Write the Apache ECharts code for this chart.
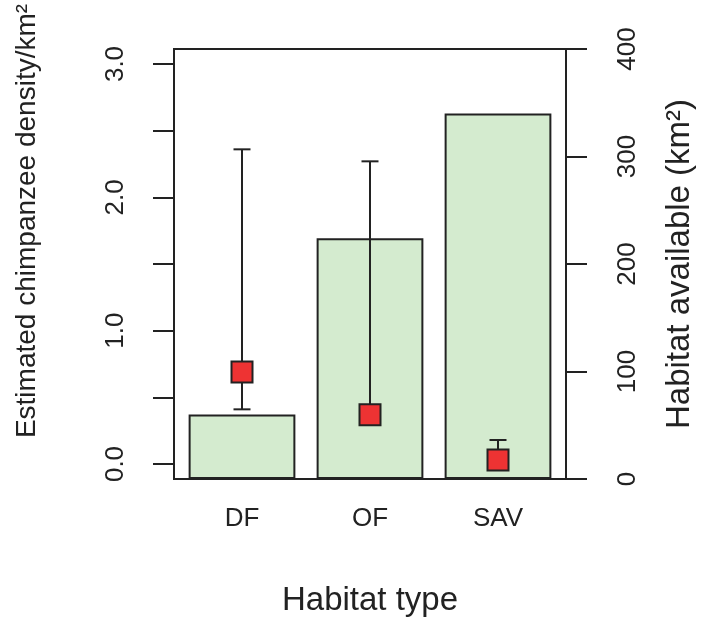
<!DOCTYPE html>
<html>
<head>
<meta charset="utf-8">
<script src="https://cdn.jsdelivr.net/npm/echarts@6/dist/echarts.min.js"></script>
<style>
  html, body { margin: 0; padding: 0; background: #fff; }
  #chart { width: 705px; height: 626px; }
</style>
</head>
<body>
<div id="chart"></div>
<script>
// habitat categories
const habitats = ['DF', 'OF', 'SAV'];
// habitat available (km2), right axis
const habitatArea = [60, 224, 340];
// estimated density (per km2), left axis
const density = [0.69, 0.37, 0.03];
const densityLow = [0.41, 0.31, 0.0];
const densityHigh = [2.36, 2.27, 0.18];
// tick values
const leftTicks = [0, 0.5, 1.0, 1.5, 2.0, 2.5, 3.0];
const leftLabels = [0, 1.0, 2.0, 3.0];

const ink = '#222222';
const font = 'Liberation Sans, Arial, sans-serif';

const chart = echarts.init(document.getElementById('chart'));

const errData = habitats.map((h, i) => [i, densityLow[i], densityHigh[i]]);

const option = {
  backgroundColor: '#ffffff',
  animation: false,
  grid: { left: 178, top: 49, width: 384, height: 430 },
  graphic: [
    {
      // plot frame (box around the panel)
      type: 'rect',
      shape: { x: 174, y: 49, width: 392, height: 430 },
      style: { fill: 'none', stroke: ink, lineWidth: 2 },
      z: 100
    }
  ],
  xAxis: {
    type: 'category',
    data: habitats,
    name: 'Habitat type',
    nameLocation: 'middle',
    nameGap: 105,
    nameTextStyle: { fontFamily: font, fontSize: 33, color: ink },
    axisLine: { show: false },
    axisTick: { show: false },
    axisLabel: { margin: 27, fontFamily: font, fontSize: 26, color: ink },
    splitLine: { show: false }
  },
  yAxis: [
    {
      type: 'value',
      position: 'left',
      offset: 4,
      min: -0.1125,
      max: 3.1125,
      name: 'Estimated chimpanzee density/km²',
      nameLocation: 'middle',
      nameRotate: 90,
      nameGap: 133,
      nameTextStyle: { fontFamily: font, fontSize: 28, color: ink, padding: [0, 0, 0, 86] },
      axisLine: { show: true, lineStyle: { color: ink, width: 2 } },
      axisTick: { show: true, length: 21, customValues: leftTicks, lineStyle: { color: ink, width: 2 } },
      axisLabel: {
        customValues: leftLabels,
        rotate: 90,
        margin: 45,
        fontFamily: font,
        fontSize: 26,
        color: ink,
        formatter: v => Number(v).toFixed(1)
      },
      splitLine: { show: false }
    },
    {
      type: 'value',
      position: 'right',
      offset: 4,
      min: 0,
      max: 400,
      interval: 100,
      name: 'Habitat available (km²)',
      nameLocation: 'middle',
      nameRotate: 90,
      nameGap: 97,
      nameTextStyle: { fontFamily: font, fontSize: 33, color: ink },
      axisLine: { show: true, lineStyle: { color: ink, width: 2 } },
      axisTick: { show: true, length: 21, lineStyle: { color: ink, width: 2 } },
      axisLabel: { rotate: 90, margin: 49, fontFamily: font, fontSize: 26, color: ink },
      splitLine: { show: false }
    }
  ],
  series: [
    {
      name: 'Habitat available',
      type: 'bar',
      yAxisIndex: 1,
      data: habitatArea,
      barCategoryGap: '16.6%',
      itemStyle: { color: '#d4ebcf', borderColor: ink, borderWidth: 2 },
      z: 1
    },
    {
      name: 'Density CI',
      type: 'custom',
      yAxisIndex: 0,
      data: errData,
      z: 3,
      renderItem: function (params, api) {
        const x = api.value(0);
        const lo = api.coord([x, api.value(1)]);
        const hi = api.coord([x, api.value(2)]);
        const hw = 8.5;
        const st = { stroke: ink, lineWidth: 2 };
        return {
          type: 'group',
          children: [
            { type: 'line', shape: { x1: hi[0], y1: hi[1], x2: lo[0], y2: lo[1] }, style: st },
            { type: 'line', shape: { x1: hi[0] - hw, y1: hi[1], x2: hi[0] + hw, y2: hi[1] }, style: st },
            { type: 'line', shape: { x1: lo[0] - hw, y1: lo[1], x2: lo[0] + hw, y2: lo[1] }, style: st }
          ]
        };
      }
    },
    {
      name: 'Density',
      type: 'scatter',
      yAxisIndex: 0,
      data: density,
      symbol: 'rect',
      symbolSize: 21,
      itemStyle: { color: '#ee3333', borderColor: ink, borderWidth: 2, opacity: 1 },
      z: 5
    }
  ]
};

chart.setOption(option);
</script>
</body>
</html>
